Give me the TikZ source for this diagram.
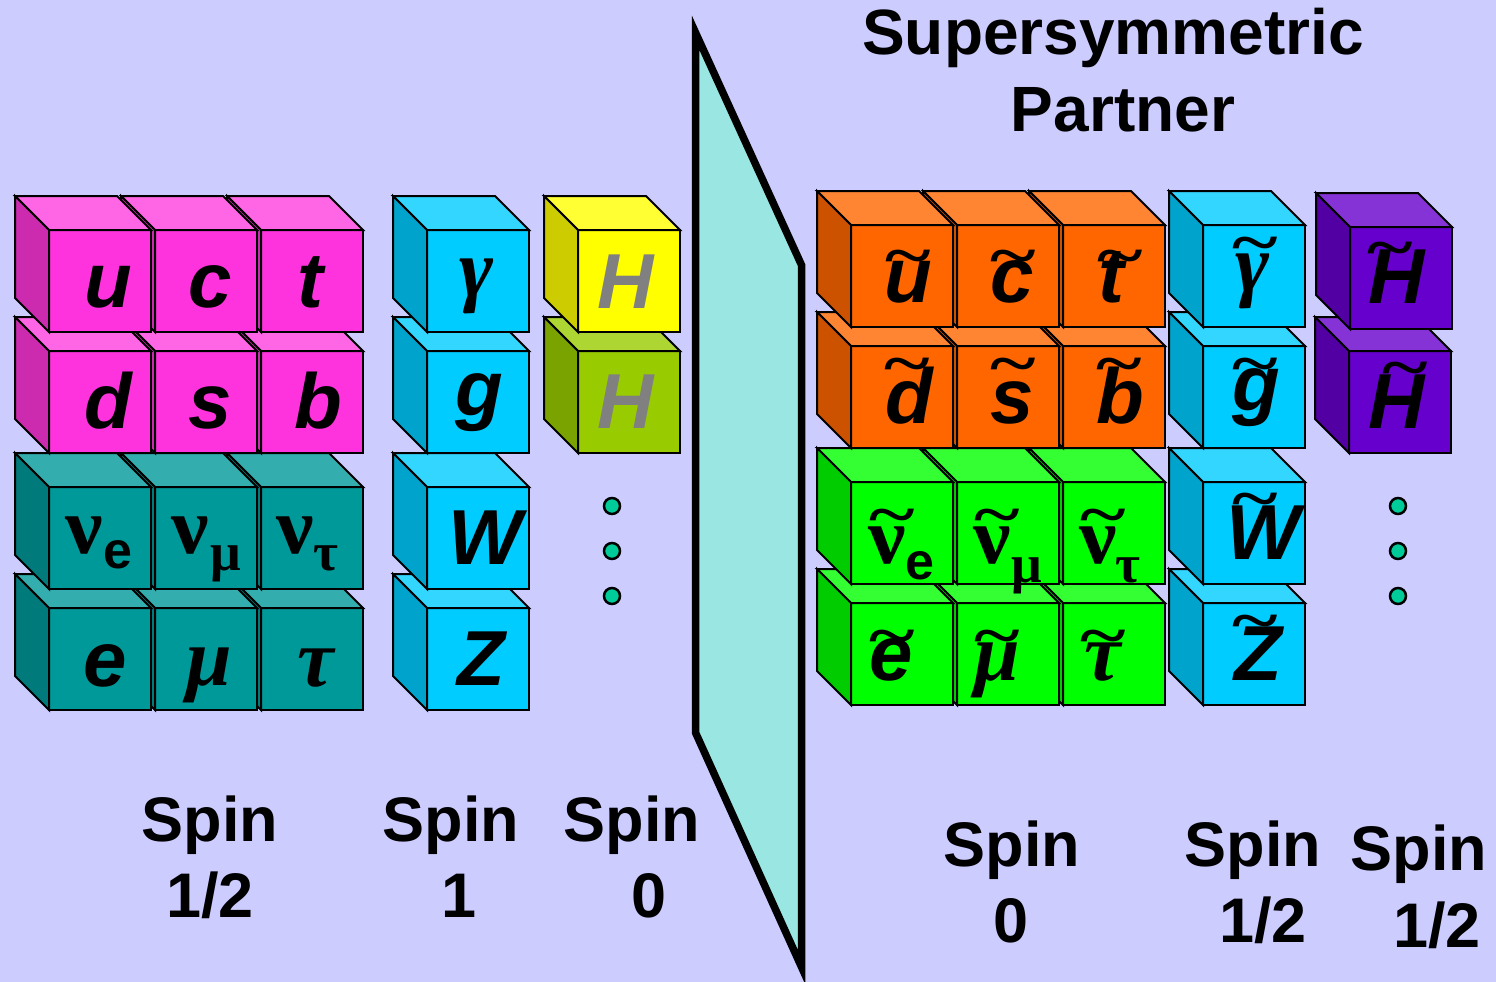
\documentclass[tikz,border=0pt]{standalone}
\usepackage{fontspec}
\setmainfont{Liberation Sans}
\newfontfamily\serifgr{Liberation Serif}
\definecolor{bgc}{HTML}{CCCCFF}
\definecolor{planec}{HTML}{99E6E3}
\definecolor{dotc}{HTML}{00CC99}
\definecolor{magF}{HTML}{FF33DD}\definecolor{magT}{HTML}{FF66E6}\definecolor{magS}{HTML}{CC2BB0}
\definecolor{teaF}{HTML}{009999}\definecolor{teaT}{HTML}{33ADAD}\definecolor{teaS}{HTML}{007A7A}
\definecolor{cyaF}{HTML}{00CCFF}\definecolor{cyaT}{HTML}{33D6FF}\definecolor{cyaS}{HTML}{00A3CC}
\definecolor{yelF}{HTML}{FFFF00}\definecolor{yelT}{HTML}{FFFF33}\definecolor{yelS}{HTML}{CCCC00}
\definecolor{oliF}{HTML}{99CC00}\definecolor{oliT}{HTML}{ADD633}\definecolor{oliS}{HTML}{7AA300}
\definecolor{oraF}{HTML}{FF6600}\definecolor{oraT}{HTML}{FF8533}\definecolor{oraS}{HTML}{CC5200}
\definecolor{greF}{HTML}{00FF00}\definecolor{greT}{HTML}{33FF33}\definecolor{greS}{HTML}{00CC00}
\definecolor{purF}{HTML}{6600CC}\definecolor{purT}{HTML}{8533D6}\definecolor{purS}{HTML}{5200A3}
% #1 front-left, #2 front-top, #3 colour prefix
\newcommand{\qcube}[3]{%
  \fill[#3F,cubeline] (#1,#2) rectangle ++(102,102);
  \fill[#3T,cubeline] (#1,#2) -- ++(-34,-34) -- ++(102,0) -- ++(34,34) -- cycle;
  \fill[#3S,cubeline] (#1,#2) -- ++(-34,-34) -- ++(0,102) -- ++(34,34) -- cycle;
}
\newcommand{\biglet}{\fontsize{78}{78}\selectfont\bfseries\itshape}
\newcommand{\grk}{\fontsize{82}{82}\selectfont\serifgr\bfseries\itshape}
\newcommand{\nuu}{\fontsize{80}{80}\selectfont\serifgr\bfseries}
\newcommand{\subs}{\fontsize{52}{52}\selectfont\bfseries}
\newcommand{\subg}{\fontsize{54}{54}\selectfont\serifgr\bfseries}
\newcommand{\tildeglyph}{\fontsize{78}{78}\selectfont\serifgr\bfseries\char"007E }
\tikzset{
  cubeline/.style={draw=black,line width=2pt,line join=miter},
  letter/.style={anchor=base,inner sep=0pt,outer sep=0pt,text=black},
  nuletter/.style={letter,xscale=1.05},
  tildemark/.style={anchor=base,inner sep=0pt,outer sep=0pt,text=black,xscale=1.12,yscale=0.8},
  caption/.style={anchor=base,inner sep=0pt,font=\fontsize{63}{63}\selectfont\bfseries},
  title/.style={anchor=base,inner sep=0pt,font=\fontsize{64}{64}\selectfont\bfseries},
  dotmark/.style={circle,draw=black,line width=2.5pt,fill=dotc,minimum size=16pt,inner sep=0pt}
}
\begin{document}
\begin{tikzpicture}[x=1pt,y=-1pt]
\useasboundingbox (0,0) rectangle (1496,982);
\fill[bgc] (0,0) rectangle (1496,982);
% left fermions, drawn bottom row first, right to left
\foreach \yy/\cc in {608/tea,487/tea,351/mag,230/mag}{
  \foreach \xx in {261,155,49}{\qcube{\xx}{\yy}{\cc}}
}
% gauge bosons
\foreach \yy in {608,487,351,230}{\qcube{427}{\yy}{cya}}
% Higgs
\qcube{578}{351}{oli}
\qcube{578}{230}{yel}
% plane
\draw[fill=planec,line width=7.5pt,line join=miter,miter limit=12] (695.7,33) -- (801.5,265) -- (801.5,967) -- (695.7,733) -- cycle;
% right sfermions
\foreach \yy/\cc in {603/gre,482/gre,346/ora,225/ora}{
  \foreach \xx in {1063,957,851}{\qcube{\xx}{\yy}{\cc}}
}
\foreach \yy in {603,482,346,225}{\qcube{1203}{\yy}{cya}}
\qcube{1349}{351}{pur}
\qcube{1350}{227}{pur}
% letters left
\node[letter,font=\biglet] (u) at (108,307) {u};
\node[letter,font=\biglet] (c) at (210,307) {c};
\node[letter,font=\biglet] (t) at (310,307) {t};
\node[letter,font=\biglet] (d) at (108,428) {d};
\node[letter,font=\biglet] (s) at (210,428) {s};
\node[letter,font=\biglet] (b) at (318,428) {b};
\node[nuletter,font=\nuu] (nue) at (84,553) {\char"03BD};
\node[letter,font=\subs] (nues) at (117.5,568) {e};
\node[nuletter,font=\nuu] (num) at (190,553) {\char"03BD};
\node[letter,font=\subg] (nums) at (226,570) {\char"03BC};
\node[nuletter,font=\nuu] (nut) at (295,553) {\char"03BD};
\node[letter,font=\subg] (nuts) at (326,570) {\char"03C4};
\node[letter,font=\biglet] (e) at (105,686) {e};
\node[letter,font=\grk] (mu) at (209,685) {\char"03BC};
\node[letter,font=\grk] (tau) at (316,686) {\char"03C4};
\node[letter,font=\grk] (gam) at (477,296) {\char"03B3};
\node[letter,font=\biglet] (g) at (479,415) {g};
\node[letter,font=\biglet] (W) at (485,564) {W};
\node[letter,font=\biglet] (Z) at (481,685) {Z};
\node[letter,font=\biglet,text=gray] (H1) at (626,308) {H};
\node[letter,font=\biglet,text=gray] (H2) at (626,428) {H};
\foreach \yy [count=\i] in {506,551,596}{\node[dotmark] (ld\i) at (612,\yy) {};}
% letters right
\node[letter,font=\biglet] (su) at (908,302) {u};
\node[letter,font=\biglet] (sc) at (1012,302) {c};
\node[letter,font=\biglet] (st) at (1111,302) {t};
\node[letter,font=\biglet] (sd) at (909,423) {d};
\node[letter,font=\biglet] (ss) at (1012,423) {s};
\node[letter,font=\biglet] (sb) at (1120,423) {b};
\node[nuletter,font=\nuu] (snue) at (887,563) {\char"03BD};
\node[letter,font=\subs] (snues) at (920,579) {e};
\node[nuletter,font=\nuu] (snum) at (992,563) {\char"03BD};
\node[letter,font=\subg] (snums) at (1027,582) {\char"03BC};
\node[nuletter,font=\nuu] (snut) at (1098,563) {\char"03BD};
\node[letter,font=\subg] (snuts) at (1128,582) {\char"03C4};
\node[letter,font=\biglet] (se) at (891,680) {e};
\node[letter,font=\grk] (smu) at (997,680) {\char"03BC};
\node[letter,font=\grk] (stau) at (1103,680) {\char"03C4};
\node[letter,font=\grk] (sgam) at (1253,291) {\char"03B3};
\node[letter,font=\biglet] (sg) at (1256,410) {g};
\node[letter,font=\biglet] (sW) at (1263,559) {W};
\node[letter,font=\biglet] (sZ) at (1258,680) {Z};
\node[letter,font=\biglet] (sH1) at (1397,303) {H};
\node[letter,font=\biglet] (sH2) at (1397,428) {H};
% tildes
\foreach \nm/\xx/\yy in {tu/908/276,tc/1013/276,tt/1120/276,td/907/384,ts/1013/384,tb/1119/384,
  tnue/892/535,tnum/997/535,tnut/1103/535,te/892/656,tmu/997/656,ttau/1103/656,
  tgam/1255/263,tgg/1255/384,tW/1255/519,tZ/1255/641,tH1/1390/268,tH2/1405/388}{
  \node[tildemark,font=\tildeglyph] (\nm) at (\xx,\yy) {};
}
\foreach \yy [count=\i] in {506,551,596}{\node[dotmark] (rd\i) at (1398,\yy) {};}
% captions
\node[title] (cap1) at (1113,55) {Supersymmetric};
\node[title] (cap2) at (1123,131) {Partner};
\node[caption] (s1a) at (210,841) {Spin};
\node[caption] (s1b) at (210,917) {1/2};
\node[caption] (s2a) at (451,841) {Spin};
\node[caption] (s2b) at (459,917) {1};
\node[caption] (s3a) at (632,841) {Spin};
\node[caption] (s3b) at (649,917) {0};
\node[caption] (s4a) at (1012,866) {Spin};
\node[caption] (s4b) at (1011,942) {0};
\node[caption] (s5a) at (1253,866) {Spin};
\node[caption] (s5b) at (1263,942) {1/2};
\node[caption] (s6a) at (1419,870) {Spin};
\node[caption] (s6b) at (1437,947) {1/2};
\end{tikzpicture}
\end{document}
